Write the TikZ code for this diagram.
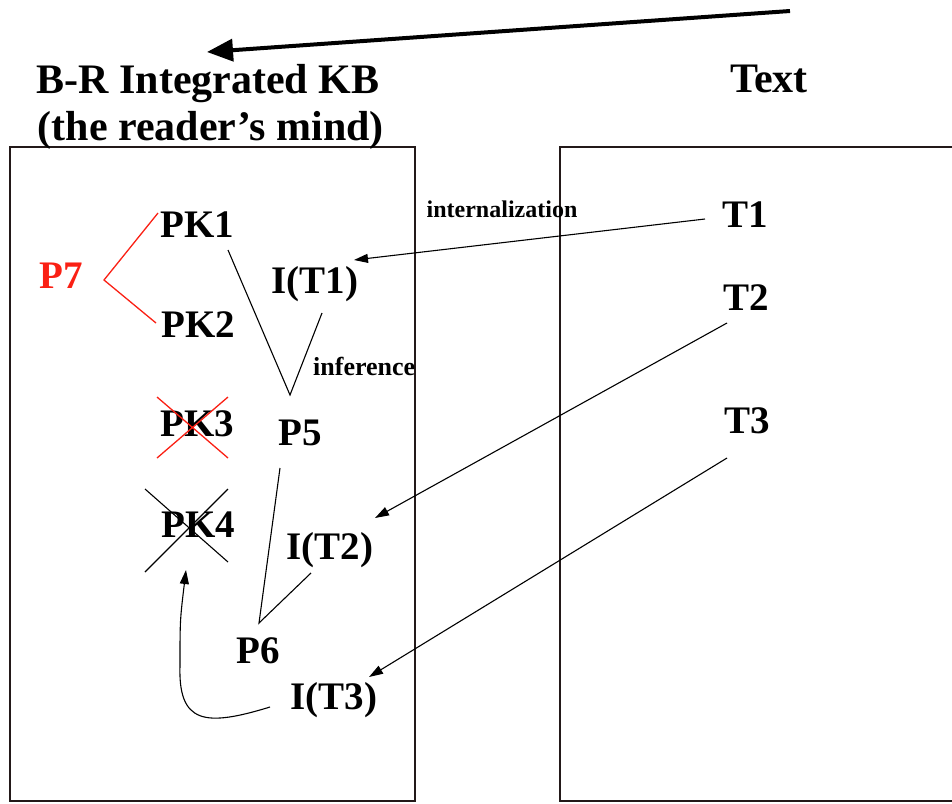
\documentclass[tikz,border=0pt]{standalone}
\usepackage{fontspec}
\setmainfont{Liberation Serif}
\usetikzlibrary{arrows.meta}
\definecolor{myred}{RGB}{250,32,20}
\definecolor{boxline}{RGB}{35,25,25}
\tikzset{
  lbl/.style={font=\bfseries\fontsize{39}{41}\selectfont, anchor=base, inner sep=0pt},
  ttl/.style={font=\bfseries\fontsize{42}{44}\selectfont, anchor=base, inner sep=0pt},
  small/.style={font=\bfseries\fontsize{24}{26}\selectfont, anchor=base, inner sep=0pt},
  kbox/.style={draw=boxline, line width=1.5pt},
  thin/.style={line width=1.1pt},
  tarrow/.style={thin, -{Triangle[length=14pt,width=9pt]}},
  redline/.style={draw=myred, line width=1.3pt},
}
\begin{document}
\begin{tikzpicture}[x=1pt,y=-1pt]
\useasboundingbox (0,0) rectangle (952,803);
% boxes
\draw[kbox] (10,147) rectangle (415,801);
\draw[kbox] (953,147) -- (560,147) -- (560,801) -- (953,801);
% titles
\node[ttl] (kbt) at (208,93) {B-R Integrated KB};
\node[ttl] (kbs) at (211,140) {(the reader’s mind)};
\node[ttl] (txt) at (769,92) {Text};
% big arrow
\coordinate (bas) at (790,11);
\coordinate (bae) at (207,52);
\draw[line width=4pt, -{Triangle[length=26pt,width=22pt]}] (bas) -- (bae);
% labels
\node[lbl, text=myred] (p7) at (61,288) {P7};
\node[lbl] (pk1) at (197,237) {PK1};
\node[lbl] (pk2) at (198,337) {PK2};
\node[lbl] (pk3) at (197,436) {PK3};
\node[lbl] (pk4) at (198,537) {PK4};
\node[lbl] (it1) at (315,293) {I(T1)};
\node[lbl] (p5) at (300,445) {P5};
\node[lbl] (it2) at (330,559) {I(T2)};
\node[lbl] (p6) at (258,663) {P6};
\node[lbl] (it3) at (334,709) {I(T3)};
\node[lbl] (t1) at (745,227) {T1};
\node[lbl] (t2) at (746,310) {T2};
\node[lbl] (t3) at (747,433) {T3};
\node[small] (intl) at (502,217) {internalization};
\node[small, font=\bfseries\fontsize{26}{28}\selectfont, anchor=base west] (infl) at (313,375) {inference};
% P7 red branches
\coordinate (p7a) at (158,213);
\coordinate (p7v) at (104,280);
\coordinate (p7b) at (156,323);
\draw[redline] (p7a) -- (p7v) -- (p7b);
% PK3 red cross
\coordinate (x3a) at (157,397);
\coordinate (x3b) at (228,458);
\coordinate (x3c) at (157,458);
\coordinate (x3d) at (228,397);
\draw[redline] (x3a) -- (x3b) (x3c) -- (x3d);
% PK4 black cross
\coordinate (x4a) at (145,489);
\coordinate (x4b) at (228,562);
\coordinate (x4c) at (145,572);
\coordinate (x4d) at (228,489);
\draw[thin] (x4a) -- (x4b) (x4c) -- (x4d);
% inference V to P5
\coordinate (pk1e) at (228,250);
\coordinate (p5v) at (290,395);
\coordinate (it1e) at (322,313);
\draw[thin] (pk1e) -- (p5v) -- (it1e);
% P5 -> P6 <- I(T2)
\coordinate (p5e) at (280,468);
\coordinate (p6v) at (259,623);
\coordinate (it2e) at (311,573);
\draw[thin] (p5e) -- (p6v) -- (it2e);
% internalization arrows
\coordinate (t1s) at (705,219);
\coordinate (it1t) at (354,260);
\draw[tarrow] (t1s) -- (it1t);
\coordinate (t2s) at (727,323);
\coordinate (it2t) at (375,518);
\draw[tarrow] (t2s) -- (it2t);
\coordinate (t3s) at (727,458);
\coordinate (it3t) at (369,677);
\draw[tarrow] (t3s) -- (it3t);
% curved arrow I(T3) -> PK4
\coordinate (it3s) at (270,707);
\coordinate (cmid) at (180,665);
\coordinate (pk4t) at (186,570);
\draw[tarrow] (it3s) .. controls (205,727) and (178,724) .. (cmid) .. controls (180,620) .. (pk4t);
\end{tikzpicture}
\end{document}
